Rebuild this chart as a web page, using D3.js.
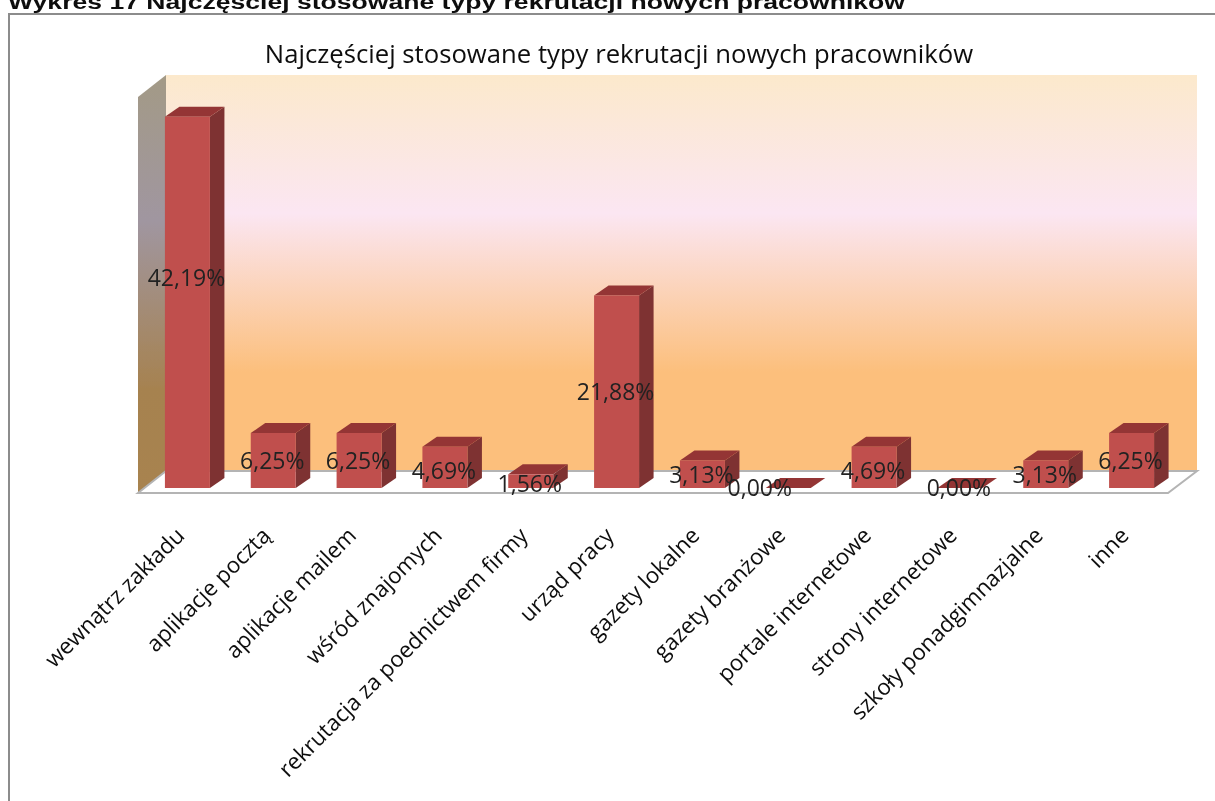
<!DOCTYPE html>
<html><head><meta charset="utf-8">
<script src="https://cdn.jsdelivr.net/npm/d3@7/dist/d3.min.js"></script>
<style>html,body{margin:0;padding:0;background:#fff}svg{display:block}</style>
</head><body><svg id="c" width="1215" height="801"></svg>
<script>
const categories=["wewnątrz zakładu","aplikacje pocztą","aplikacje mailem","wśród znajomych","rekrutacja za poednictwem firmy","urząd pracy","gazety lokalne","gazety branżowe","portale internetowe","strony internetowe","szkoły ponadgimnazjalne","inne"];
const values=[42.19,6.25,6.25,4.69,1.56,21.88,3.13,0,4.69,0,3.13,6.25];
const valueLabels=["42,19%","6,25%","6,25%","4,69%","1,56%","21,88%","3,13%","0,00%","4,69%","0,00%","3,13%","6,25%"];
const heading="Wykres 17 Najczęściej stosowane typy rekrutacji nowych pracowników";
const chartTitle="Najczęściej stosowane typy rekrutacji nowych pracowników";
const font="'Open Sans', 'Noto Sans', sans-serif";

const svg=d3.select("#c");
const defs=svg.append("defs");
defs.append("filter").attr("id","soft").append("feGaussianBlur").attr("stdDeviation",0.45);
function grad(id,stops){const g=defs.append("linearGradient").attr("id",id).attr("x1",0).attr("x2",0).attr("y1",0).attr("y2",1);
 stops.forEach(s=>g.append("stop").attr("offset",s[0]).attr("stop-color",s[1]));}
grad("wall",[[0,"#fce9cc"],[0.35,"#fbe6f2"],[0.75,"#fcbf7c"],[1,"#fcbf7c"]]);
grad("side",[[0,"#a39a86"],[0.35,"#a096a0"],[0.75,"#a68250"],[1,"#a88350"]]);

const depthX=28, depthY=22;
const x=d3.scaleBand().domain(categories).range([138,1168]);
const y=d3.scaleLinear().domain([0,45]).range([493,97]);
const barW=45, barOffX=6.5, barOffY=5, bdx=14.5, bdy=10;
const root=svg.append("g").attr("filter","url(#soft)");

root.append("path").attr("d","M9 801V14H1215").attr("fill","none").attr("stroke","#8c8c8c").attr("stroke-width",2);
root.append("text").attr("x",8).attr("y",9).attr("font-family","'Liberation Sans',Arial,sans-serif").attr("font-weight","bold").attr("font-size",20).attr("textLength",897).attr("lengthAdjust","spacingAndGlyphs").attr("fill","#111").text(heading);
root.append("text").attr("x",619).attr("y",63).attr("text-anchor","middle").attr("font-family",font).attr("font-size",25.7).attr("fill","#111").text(chartTitle);

const x0=x.range()[0], x1=x.range()[1], yB=y(0), yT=y(45);
root.append("rect").attr("x",x0+depthX).attr("y",yT-depthY).attr("width",x1-x0+1).attr("height",yB-yT).attr("fill","url(#wall)");
root.append("path").attr("d",`M${x0} ${yB}L${x0} ${yT}L${x0+depthX} ${yT-depthY}L${x0+depthX} ${yB-depthY}Z`).attr("fill","url(#side)");
root.append("path").attr("d",`M${x0} ${yB}L${x0+depthX} ${yB-depthY}L${x1+depthX+1} ${yB-depthY}L${x1} ${yB}Z`).attr("fill","#fff").attr("stroke","#b4b4b4").attr("stroke-width",2);

const bars=root.selectAll("g.bar").data(categories).join("g").attr("class","bar");
bars.each(function(c,i){
 const g=d3.select(this), l=x(c)+x.bandwidth()/2-barW/2+barOffX, r=l+barW, b=yB-barOffY, t=y(values[i])-barOffY;
 g.append("path").attr("d",`M${r} ${b}L${r} ${t}L${r+bdx} ${t-bdy}L${r+bdx} ${b-bdy}Z`).attr("fill","#7e3130");
 g.append("path").attr("d",`M${l} ${t}L${l+bdx} ${t-bdy}L${r+bdx} ${t-bdy}L${r} ${t}Z`).attr("fill","#943634");
 if(values[i]>0) g.append("rect").attr("x",l).attr("y",t).attr("width",barW).attr("height",b-t).attr("fill","#c0504d");
});
// labels moved by hand in the original chart
const nudgeX={7:-27.5}, nudgeY={0:-25,3:3,4:3,8:3};
root.selectAll("text.v").data(categories).join("text").attr("class","v")
 .attr("x",(c,i)=>x(c)+x.bandwidth()/2+5.5+(nudgeX[i]||0))
 .attr("y",(c,i)=>(y(values[i])+yB)/2-barOffY+(nudgeY[i]||0))
 .attr("dy","0.36em")
 .attr("text-anchor","middle").attr("font-family",font).attr("font-size",23).attr("fill","#222")
 .text((c,i)=>valueLabels[i]);
root.selectAll("text.c").data(categories).join("text").attr("class","c")
 .attr("text-anchor","end").attr("font-family",font).attr("font-size",22.3).attr("fill","#111")
 .attr("transform",c=>`translate(${x(c)+x.bandwidth()/2+5},537) rotate(-45)`)
 .text(c=>c);
</script></body></html>
